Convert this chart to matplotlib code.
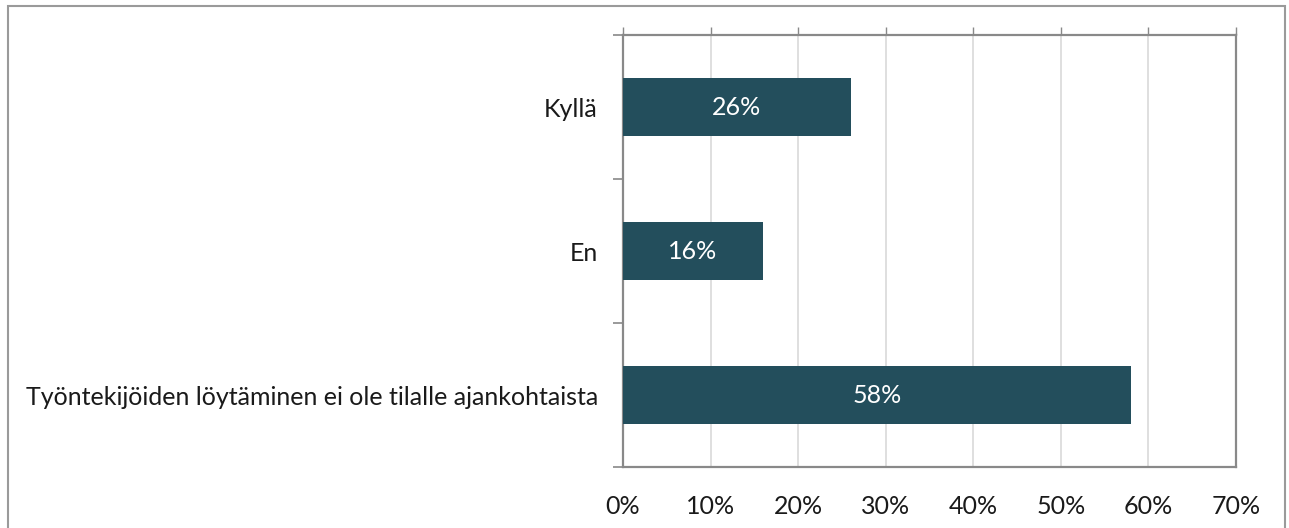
import matplotlib
matplotlib.use("Agg")
import matplotlib.pyplot as plt
from matplotlib.patches import Rectangle

categories = ["Kyllä", "En", "Työntekijöiden löytäminen ei ole tilalle ajankohtaista"]
values = [26, 16, 58]
xticks = [0, 10, 20, 30, 40, 50, 60, 70]
xtick_labels = ["0%", "10%", "20%", "30%", "40%", "50%", "60%", "70%"]

W, H = 1289, 528
fig = plt.figure(figsize=(W / 100, H / 100), dpi=100)
plt.rcParams['font.family'] = ['Lato', 'DejaVu Sans']
FS = 18

# outer border
fig.patches.append(Rectangle((8 / W, -0.01), (1285 - 8) / W, 1 - 6 / H + 0.01,
                             transform=fig.transFigure, fill=False,
                             edgecolor="#9a9a9a", linewidth=1.5))

ax = fig.add_axes([623 / W, 1 - 467 / H, (1236 - 623) / W, (467 - 35) / H])
bar_color = "#234E5C"
ypos = list(range(len(categories)))
ax.barh(ypos, values, height=0.4, color=bar_color, zorder=3)
for y, v in zip(ypos, values):
    ax.text(v / 2, y, f"{v}%", ha="center", va="center", color="white",
            fontsize=FS, zorder=4)

ax.set_xlim(0, 70)
ax.set_ylim(len(categories) - 0.5, -0.5)
ax.set_yticks(ypos)
ax.set_yticklabels(categories, fontsize=FS, color="#1a1a1a")
ax.set_yticks([-0.5, 0.5, 1.5, 2.5], minor=True)
ax.tick_params(axis="y", which="major", length=0, pad=18)
ax.tick_params(axis="y", which="minor", length=7.5, width=1.2, color="#898989")

ax.set_xticks(xticks)
ax.set_xticklabels(xtick_labels, fontsize=FS, color="#1a1a1a")
ax.tick_params(axis="x", which="major", bottom=False, top=True, labelbottom=True,
               labeltop=False, length=6, width=1.0, color="#898989", pad=14,
               direction="out")
ax.grid(axis="x", color="#d9d9d9", linewidth=1.2, zorder=0)

for s in ax.spines.values():
    s.set_color("#898989")
    s.set_linewidth(1.6)

fig.savefig("out.png", dpi=100)
